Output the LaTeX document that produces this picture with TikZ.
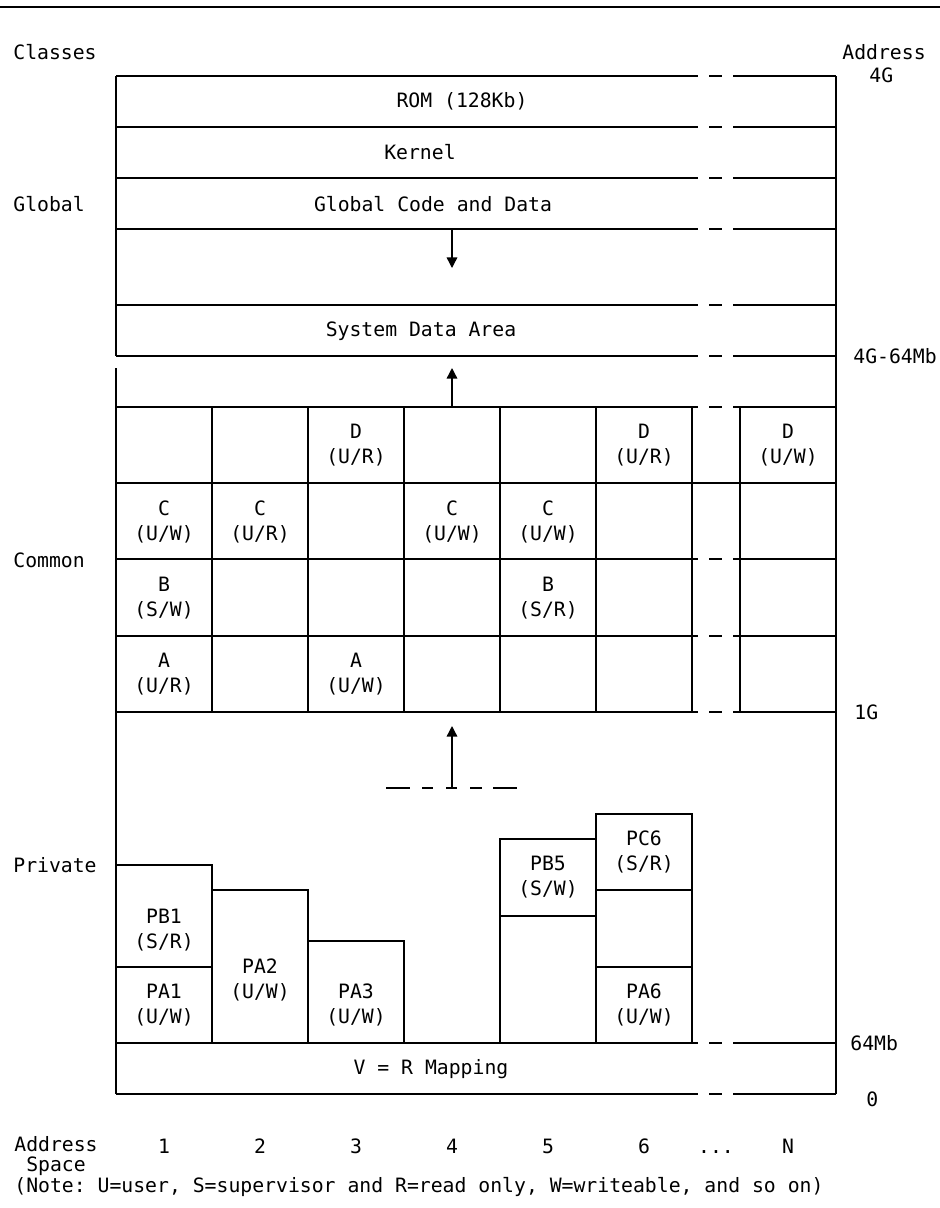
\documentclass[tikz,border=0pt]{standalone}
\usepackage{fontspec}
\setmainfont{DejaVu Sans Mono}
\usetikzlibrary{arrows.meta}
\tikzset{
  txt/.style={font=\fontsize{11.25}{14}\selectfont\frenchspacing, inner sep=0pt, align=center},
  side/.style={txt, anchor=west, align=left},
  tip/.style={thick, -{Triangle[length=6pt,width=6pt]}}
}
\newcommand{\gapline}[1]{\draw [thick] (116,#1) -- (698,#1);\draw [thick] (709,#1) -- (722,#1);\draw [thick] (733,#1) -- (836,#1);}
\begin{document}
\begin{tikzpicture}[x=0.02cm,y=-0.02cm]
        \useasboundingbox (0,0) rectangle (940,1208);
        % rule
        \draw [line width=1.2pt] (0,7) -- (940,7);
        % rows
        \foreach \y in {76,127,178,229,305,356,407,559,636,712,1043,1094} {\gapline{\y}}
        \draw [thick] (116,483) -- (836,483);
        % sides and columns
        \draw [thick] (116,76) -- (116,356);\draw [thick] (116,368) -- (116,1094);
        \draw [thick] (836,76) -- (836,1094);
        \foreach \x in {212,308,404,500,596,692,740} {\draw [thick] (\x,407) -- (\x,712);}
        % private boxes
        \draw [thick] (116,865) -- (212,865) -- (212,1043);\draw [thick] (116,967) -- (212,967);
        \draw [thick] (212,890) -- (308,890) -- (308,1043);
        \draw [thick] (308,941) -- (404,941) -- (404,1043);
        \draw [thick] (500,1043) -- (500,839) -- (596,839);\draw [thick] (500,916) -- (596,916);
        \draw [thick] (596,1043) -- (596,814) -- (692,814) -- (692,1043);
        \draw [thick] (596,890) -- (692,890);\draw [thick] (596,967) -- (692,967);
        % arrows
        \coordinate (gtop) at (452,229);\coordinate (gend) at (452,268);
        \coordinate (cbot) at (452,407);\coordinate (cend) at (452,368);
        \coordinate (pbot) at (452,788);\coordinate (pend) at (452,726);
        \draw [tip] (gtop) -- (gend);
        \draw [tip] (cbot) -- (cend);
        \draw [tip] (pbot) -- (pend);
        \foreach \a/\b in {386/410,422/433,446/457,470/482,493/517} {\draw [thick] (\a,788) -- (\b,788);}
        % areas
        \node [txt] (rom) at (462,101) {ROM (128Kb)};
        \node [txt] (kern) at (420,152) {Kernel};
        \node [txt] (gcd) at (433,204) {Global Code and Data};
        \node [txt] (sda) at (421,331) {System Data Area};
        \node [txt] (vrm) at (431,1069) {V = R Mapping};
        % common
        \node [txt] (d3) at (356,445) {D\\(U/R)};\node [txt] (d6) at (644,445) {D\\(U/R)};\node [txt] (dn) at (788,445) {D\\(U/W)};
        \node [txt] (c1) at (164,522) {C\\(U/W)};\node [txt] (c2) at (260,522) {C\\(U/R)};
        \node [txt] (c4) at (452,522) {C\\(U/W)};\node [txt] (c5) at (548,522) {C\\(U/W)};
        \node [txt] (b1) at (164,598) {B\\(S/W)};\node [txt] (b5) at (548,598) {B\\(S/R)};
        \node [txt] (a1) at (164,674) {A\\(U/R)};\node [txt] (a3) at (356,674) {A\\(U/W)};
        % private
        \node [txt] (pb1) at (164,930) {PB1\\(S/R)};\node [txt] (pa1) at (164,1005) {PA1\\(U/W)};
        \node [txt] (pa2) at (260,980) {PA2\\(U/W)};\node [txt] (pa3) at (356,1005) {PA3\\(U/W)};
        \node [txt] (pb5) at (548,877) {PB5\\(S/W)};
        \node [txt] (pc6) at (644,852) {PC6\\(S/R)};\node [txt] (pa6) at (644,1005) {PA6\\(U/W)};
        % classes
        \node [side] (cls) at (13,52) {Classes};
        \node [side] (glb) at (13,204) {Global};
        \node [side] (cmn) at (13,560) {Common};
        \node [side] (prv) at (13,865) {Private};
        % addresses
        \node [side] (adr) at (842,52) {Address};
        \node [side] (a4g) at (869,75) {4G};
        \node [side] (a4m) at (853,356) {4G-64Mb};
        \node [side] (a1g) at (854,712) {1G};
        \node [side] (a64) at (850,1043) {64Mb};
        \node [side] (a0) at (866,1099) {0};
        % spaces
        \node [side, font=\fontsize{11.25}{11.4}\selectfont] (asp) at (14,1156) {Address\\\hspace*{0.602em}Space};
        \foreach \n/\x in {1/164,2/260,3/356,4/452,5/548,6/644,N/788} {\node [txt] (s\x) at (\x,1146) {\n};}
        \node [txt] (sdots) at (716,1146) {\vphantom{6}.{}.{}.};
        \node [side] (note) at (14,1187) {(Note: U=user, S=supervisor and R=read only, W=writeable, and so on)};
    \end{tikzpicture}
\end{document}
